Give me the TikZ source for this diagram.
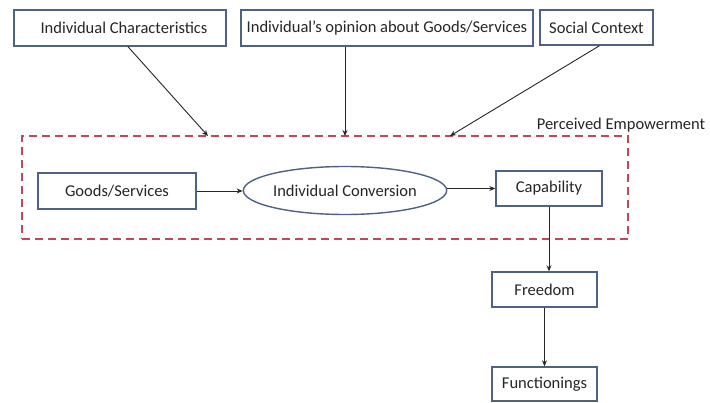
\documentclass[tikz,border=0pt]{standalone}
\usepackage{fontspec}
\setmainfont{Carlito}
\usetikzlibrary{shapes.geometric,arrows.meta}
\definecolor{boxblue}{HTML}{4F6283}
\definecolor{dashred}{HTML}{C0485A}
\begin{document}
\begin{tikzpicture}[x=1pt,y=-1pt,
  box/.style={draw=boxblue,line width=1.4pt,fill=white,minimum width=#1,inner sep=0pt,font=\fontsize{16.5}{19}\selectfont,text=black!85},
  conv/.style={draw=boxblue,line width=1.4pt,fill=white,ellipse,minimum width=165pt,minimum height=48pt,inner sep=0pt,font=\fontsize{16.5}{19}\selectfont,text=black!85},
  arr/.style={draw=black!85,line width=0.9pt,-{Stealth[length=6pt,width=5pt]}},
  perc/.style={draw=dashred,line width=1.8pt,dash pattern=on 8pt off 5pt,minimum width=606pt,minimum height=103pt,inner sep=0pt}]
\useasboundingbox (0,0) rectangle (710,402);
\fill[white] (0,0) rectangle (710,402);
\node[box=212pt,minimum height=36pt] (ic) at (120,28) {\hspace{8pt}Individual Characteristics};
\node[box=292pt,minimum height=36pt] (op) at (387,28) {Individual's opinion about Goods/Services};
\node[box=113pt,minimum height=35pt] (sc) at (596.5,27.5) {Social Context};
\node[perc] (pe) at (325,187.5) {};
\node[font=\fontsize{16.5}{19}\selectfont,text=black!85] (pel) at (621,125) {Perceived Empowerment};
\coordinate (a1) at (208,136);
\coordinate (a2) at (345,136);
\coordinate (a3) at (450,136);
\node[box=158pt,minimum height=36pt] (gs) at (117,191) {Goods/Services};
\node[conv] (ell) at (345,190.5) {Individual Conversion};
\node[box=106pt,minimum height=35pt] (cap) at (549,188.5) {Capability};
\node[box=105pt,minimum height=35pt] (fr) at (544.5,289.5) {Freedom};
\node[box=105pt,minimum height=34pt] (fn) at (544.5,384) {Functionings};
\draw[arr] ([xshift=8pt]ic.south) -- (a1);
\draw[arr] ([xshift=-42pt]op.south) -- (a2);
\draw[arr] ([xshift=3pt]sc.south) -- (a3);
\draw[arr] (gs.east) -- (gs.east -| ell.west);
\draw[arr] (cap.west -| ell.east) -- (cap.west);
\draw[arr] (cap.south) -- (cap.south |- fr.north);
\draw[arr] (fr.south) -- (fn.north);
\end{tikzpicture}
\end{document}
